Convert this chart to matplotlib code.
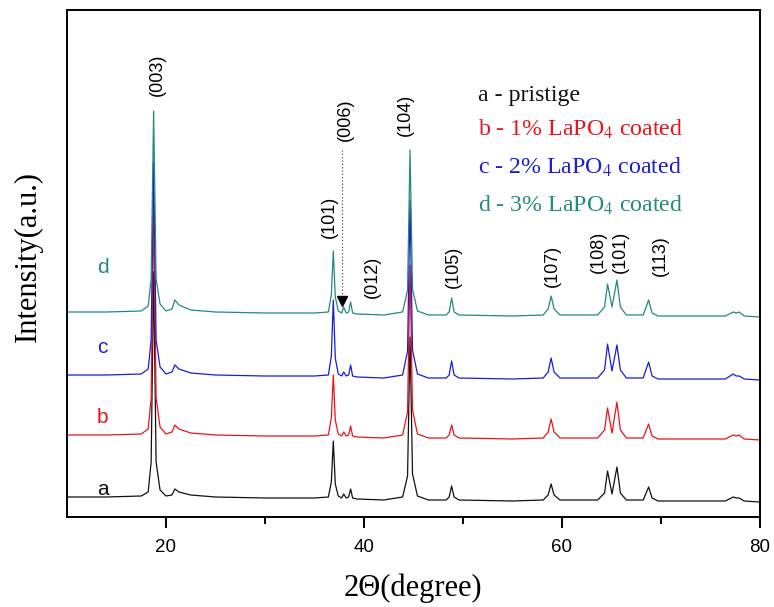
import numpy as np
import matplotlib
matplotlib.use("Agg")
import matplotlib.pyplot as plt

# XRD patterns (heights in px-like units above each trace's zero)
two_theta = [10, 14, 17.5, 18.2, 18.5, 18.75, 19.0, 19.4, 20.0, 20.6, 20.9, 21.3, 22.5,
             25, 30, 35, 36.4, 36.7, 36.9, 37.1, 37.4, 37.75, 37.95, 38.2, 38.45, 38.65,
             38.85, 39.3, 42, 43.9, 44.4, 44.65, 44.9, 45.4, 46.5, 48.3, 48.6, 48.85, 49.1,
             49.6, 55, 58.1, 58.6, 58.9, 59.2, 59.8, 63.6, 64.3, 64.6, 65.05, 65.55, 65.9,
             66.5, 68.2, 68.75, 69.1, 69.7, 76.5, 77.3, 77.6, 77.9, 78.4, 80]

int_a = [5, 5, 6, 10, 40, 230, 40, 12, 6, 7, 13, 10, 7,
         5, 4, 4, 5, 20, 61, 18, 6, 4, 8, 4, 5, 13,
         4, 3, 2, 5, 26, 165, 28, 6, 2, 2, 5, 16, 5,
         2, 1, 2, 7, 18, 7, 2, 2, 9, 31, 8, 35, 9,
         2, 2, 15, 4, 1, 1, 5, 4, 4, 1, 0]
int_b = [5, 5, 6, 11, 42, 234, 42, 13, 6, 8, 15, 11, 7,
         5, 4, 4, 5, 22, 65, 20, 6, 4, 8, 4, 5, 14,
         4, 3, 2, 5, 28, 175, 30, 6, 2, 2, 5, 15, 5,
         2, 1, 2, 8, 21, 8, 2, 2, 10, 32, 7, 38, 10,
         2, 2, 16, 4, 1, 1, 5, 4, 5, 1, 0]
int_c = [5, 5, 6, 11, 40, 218, 40, 13, 6, 8, 15, 11, 7,
         5, 4, 4, 5, 24, 80, 22, 6, 4, 8, 4, 5, 15,
         4, 3, 2, 5, 29, 180, 30, 6, 2, 2, 5, 19, 5,
         2, 1, 2, 8, 22, 8, 2, 2, 10, 36, 9, 35, 10,
         2, 2, 18, 4, 1, 1, 6, 4, 4, 1, 0]
int_d = [5, 5, 6, 11, 38, 206, 38, 13, 6, 8, 17, 12, 7,
         5, 4, 4, 5, 22, 66, 20, 6, 4, 10, 4, 5, 15,
         4, 3, 2, 5, 27, 167, 28, 6, 2, 2, 5, 19, 5,
         2, 1, 2, 8, 21, 8, 2, 2, 10, 33, 10, 37, 10,
         2, 2, 17, 4, 1, 1, 5, 4, 5, 1, 0]

samples = ['a', 'b', 'c', 'd']
offsets = [15, 77, 137, 200]
colors = ['#111111', '#e8141c', '#1c1cd2', '#238a80']
legend_texts = ['a - pristige',
                'b - 1% LaPO$_4$ coated',
                'c - 2% LaPO$_4$ coated',
                'd - 3% LaPO$_4$ coated']

# Miller index labels: text, x (deg), y
hkl_labels = ['(003)', '(101)', '(006)', '(012)', '(104)', '(105)', '(107)', '(108)', '(101)', '(113)']
hkl_x = [19.1, 36.55, 38.1, 40.8, 44.15, 49.0, 59.0, 63.65, 65.85, 69.9]
hkl_y = [442, 300, 397, 240, 402, 250, 251, 265, 265, 261]

plt.rcParams['mathtext.fontset'] = 'stix'

fig = plt.figure(figsize=(7.74, 6.07), dpi=100)
ax = fig.add_axes([67/774, 1-517/607, 693/774, 507/607])

series = [int_a, int_b, int_c, int_d]
for s, off, c in zip(series, offsets, colors):
    ax.plot(two_theta, np.array(s) + off, '-', color=c, lw=0.9)

ax.set_xlim(10, 80)
ax.set_ylim(0, 507)
ax.set_xticks([20, 40, 60, 80])
ax.set_xticks([30, 50, 70], minor=True)
ax.set_yticks([])
ax.tick_params(axis='x', which='major', direction='out', length=8, width=1.4,
               pad=8, labelsize=13.5)
ax.tick_params(axis='x', which='minor', direction='out', length=5, width=1.4)
for lab in ax.get_xticklabels():
    lab.set_family('Liberation Sans')
for sp in ax.spines.values():
    sp.set_linewidth(1.4)

# sample letters
letter_y = [22, 94, 164, 244]
for name, ly, c in zip(samples, letter_y, colors):
    ax.text(13.6, ly, name, color=c, fontsize=15, ha='center', va='baseline',
            family='Liberation Sans')

# hkl labels
for t, hx, hy in zip(hkl_labels, hkl_x, hkl_y):
    ax.text(hx, hy, t, rotation=90, ha='center', va='center', fontsize=13,
            family='Liberation Sans')

# arrow marking (006)
ax.plot([37.8, 37.8], [367, 218], ':', color='#555555', lw=0.9)
ax.plot([37.8], [216], marker='v', color='black', markersize=7)

# legend text
leg_y = [416, 381, 343, 305]
for t, ly, c in zip(legend_texts, leg_y, colors):
    ax.text(51.5, ly, t, color=c, fontsize=17.2, ha='left', va='baseline',
            family='Liberation Serif')

fig.text(28/774, 1-257/607, 'Intensity(a.u.)', rotation=90, ha='center', va='center',
         fontsize=22, family='Liberation Serif')
fig.text(413/774, 1-596/607, '2\u0398(degree)', ha='center', va='baseline',
         fontsize=22, family='Liberation Serif')

fig.savefig('out.png', dpi=100)
